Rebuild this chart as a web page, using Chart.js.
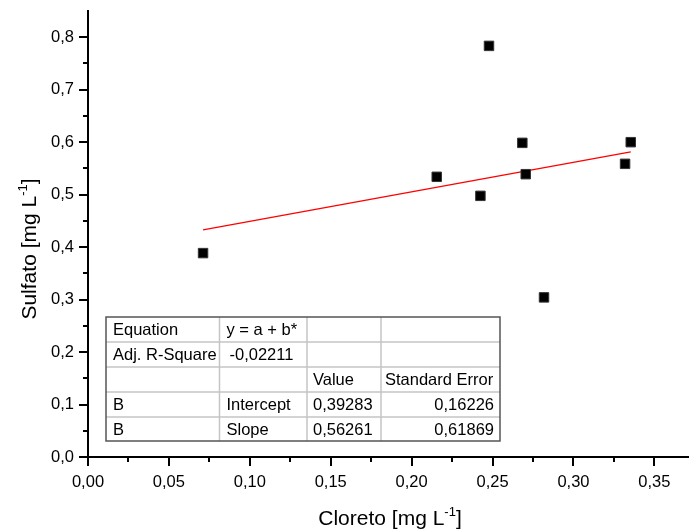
<!DOCTYPE html>
<html>
<head>
<meta charset="utf-8">
<script src="https://cdn.jsdelivr.net/npm/chart.js@4/dist/chart.umd.min.js"></script>
<style>
html,body{margin:0;padding:0;background:#fff;}
#wrap{position:relative;width:689px;height:532px;}
</style>
</head>
<body>
<div id="wrap"><canvas id="c" width="689" height="532"></canvas></div>
<script>
// ---- data ----
const cloreto = [0.0711, 0.2155, 0.2478, 0.2684, 0.2705, 0.2425, 0.2818, 0.3354, 0.3319];
const sulfato = [0.3886, 0.5340, 0.7835, 0.5987, 0.5390, 0.4977, 0.3042, 0.6000, 0.5587];
const fitX = [0.0711, 0.3354];
const fitY = [0.4328, 0.5815];
const xTickValues = [0, 0.025, 0.05, 0.075, 0.10, 0.125, 0.15, 0.175, 0.20, 0.225, 0.25, 0.275, 0.30, 0.325, 0.35];
const yTickValues = [0, 0.05, 0.1, 0.15, 0.2, 0.25, 0.3, 0.35, 0.4, 0.45, 0.5, 0.55, 0.6, 0.65, 0.7, 0.75, 0.8];
const xTitle = ["Cloreto [mg L", "-1", "]"];
const yTitle = ["Sulfato [mg L", "-1", "]"];
const tableCol1 = ["Equation", "Adj. R-Square", "", "B", "B"];
const tableCol2 = ["y = a + b*", "-0,02211", "", "Intercept", "Slope"];
const tableCol3 = ["", "", "Value", "0,39283", "0,56261"];
const tableCol4 = ["", "", "Standard Error", "0,16226", "0,61869"];

const FONT = '"Liberation Sans", Arial, sans-serif';
const fmt = (v, d) => v.toFixed(d).replace('.', ',');
const isMult = (v, s) => Math.abs(Math.round(v / s) * s - v) < 1e-9;

const tickPlugin = {
  id: 'originTicks',
  afterDraw(chart) {
    const ctx = chart.ctx;
    ctx.save();
    ctx.strokeStyle = '#000';
    ctx.lineWidth = 2;
    const xs = chart.scales.x, ys = chart.scales.y;
    const ay = ys.bottom, ax = xs.left;
    xs.ticks.forEach(t => {
      const px = Math.round(xs.getPixelForValue(t.value));
      const len = isMult(t.value, 0.05) ? 9 : 5;
      ctx.beginPath(); ctx.moveTo(px, ay); ctx.lineTo(px, ay + len); ctx.stroke();
    });
    ys.ticks.forEach(t => {
      const py = Math.round(ys.getPixelForValue(t.value));
      const len = isMult(t.value, 0.1) ? 9 : 5;
      ctx.beginPath(); ctx.moveTo(ax, py); ctx.lineTo(ax - len, py); ctx.stroke();
    });
    ctx.restore();
  }
};

function drawSupText(ctx, parts, size) {
  const main = size + 'px ' + FONT, sup = Math.round(size * 0.62) + 'px ' + FONT;
  ctx.font = main; const w0 = ctx.measureText(parts[0]).width;
  ctx.font = sup; const w1 = ctx.measureText(parts[1]).width;
  ctx.font = main; const w2 = ctx.measureText(parts[2]).width;
  const tot = w0 + w1 + w2;
  let x = -tot / 2;
  ctx.textAlign = 'left'; ctx.textBaseline = 'alphabetic';
  ctx.font = main; ctx.fillText(parts[0], x, 0); x += w0;
  ctx.font = sup; ctx.fillText(parts[1], x, -size * 0.42); x += w1;
  ctx.font = main; ctx.fillText(parts[2], x, 0);
}

const titlePlugin = {
  id: 'titles',
  afterDraw(chart) {
    const ctx = chart.ctx;
    ctx.save();
    ctx.fillStyle = '#000';
    ctx.translate(390, 525);
    drawSupText(ctx, xTitle, 21);
    ctx.restore();
    ctx.save();
    ctx.fillStyle = '#000';
    ctx.translate(36, 249);
    ctx.rotate(-Math.PI / 2);
    drawSupText(ctx, yTitle, 21);
    ctx.restore();
  }
};

const tablePlugin = {
  id: 'fitTable',
  afterDraw(chart) {
    const ctx = chart.ctx;
    const colX = [106, 219.5, 307, 381, 500];
    const rowY = [317, 342, 367, 392, 417, 441];
    ctx.save();
    ctx.fillStyle = '#fff';
    ctx.fillRect(colX[0], rowY[0], colX[4] - colX[0], rowY[5] - rowY[0]);
    ctx.strokeStyle = '#c4c4c4';
    ctx.lineWidth = 1.5;
    for (let i = 1; i < rowY.length - 1; i++) {
      ctx.beginPath(); ctx.moveTo(colX[0], rowY[i]); ctx.lineTo(colX[4], rowY[i]); ctx.stroke();
    }
    for (let j = 1; j < colX.length - 1; j++) {
      ctx.beginPath(); ctx.moveTo(colX[j], rowY[0]); ctx.lineTo(colX[j], rowY[5]); ctx.stroke();
    }
    ctx.strokeStyle = '#555';
    ctx.strokeRect(colX[0], rowY[0], colX[4] - colX[0], rowY[5] - rowY[0]);
    ctx.fillStyle = '#000';
    ctx.font = '16.5px ' + FONT;
    ctx.textBaseline = 'middle';
    const cols = [tableCol1, tableCol2, tableCol3, tableCol4];
    for (let r = 0; r < 5; r++) {
      const cy = (rowY[r] + rowY[r + 1]) / 2 + 1;
      for (let c = 0; c < 4; c++) {
        const txt = cols[c][r];
        if (!txt) continue;
        if (c === 3 && r >= 3) {
          ctx.textAlign = 'right';
          ctx.fillText(txt, colX[4] - 6, cy);
        } else {
          ctx.textAlign = 'left';
          let pad = 7;
          if (c === 1 && r === 1) pad = 10;
          if (c === 2) pad = 6;
          if (c === 3) pad = 4;
          ctx.fillText(txt, colX[c] + pad, cy);
        }
      }
    }
    ctx.restore();
  }
};

const points = cloreto.map((x, i) => ({ x: x, y: sulfato[i] }));
const fitLine = fitX.map((x, i) => ({ x: x, y: fitY[i] }));

new Chart(document.getElementById('c'), {
  type: 'scatter',
  data: {
    datasets: [
      {
        data: points,
        pointStyle: 'rect',
        pointRadius: 6.7,
        backgroundColor: '#000',
        borderColor: '#333',
        borderWidth: 1
      },
      {
        data: fitLine,
        showLine: true,
        pointRadius: 0,
        borderColor: '#ff0000',
        borderWidth: 1.3,
        fill: false
      }
    ]
  },
  options: {
    responsive: false,
    animation: false,
    events: [],
    layout: { autoPadding: false, padding: { top: 11, right: 0, left: 0, bottom: 0 } },
    plugins: { legend: { display: false }, tooltip: { enabled: false }, title: { display: false } },
    scales: {
      x: {
        type: 'linear',
        min: 0,
        max: 0.3714,
        afterBuildTicks: s => { s.ticks = xTickValues.map(v => ({ value: v })); },
        afterFit: s => { s.height = 75; s.paddingLeft = 0; s.paddingRight = 0; s.paddingTop = 0; s.paddingBottom = 0; },
        grid: { display: false, drawTicks: false },
        border: { display: true, color: '#000', width: 2 },
        ticks: {
          autoSkip: false,
          maxRotation: 0,
          padding: 16,
          color: '#000',
          font: { family: FONT, size: 16.5 },
          callback: v => isMult(v, 0.05) ? fmt(v, 2) : ''
        }
      },
      y: {
        type: 'linear',
        min: 0,
        max: 0.85,
        afterBuildTicks: s => { s.ticks = yTickValues.map(v => ({ value: v })); },
        afterFit: s => { s.width = 88; s.paddingLeft = 0; s.paddingRight = 0; s.paddingTop = 0; s.paddingBottom = 0; },
        grid: { display: false, drawTicks: false },
        border: { display: true, color: '#000', width: 2 },
        ticks: {
          autoSkip: false,
          padding: 14,
          color: '#000',
          font: { family: FONT, size: 16.5 },
          callback: v => isMult(v, 0.1) ? fmt(v, 1) : ''
        }
      }
    }
  },
  plugins: [tickPlugin, tablePlugin, titlePlugin]
});
</script>
</body>
</html>
